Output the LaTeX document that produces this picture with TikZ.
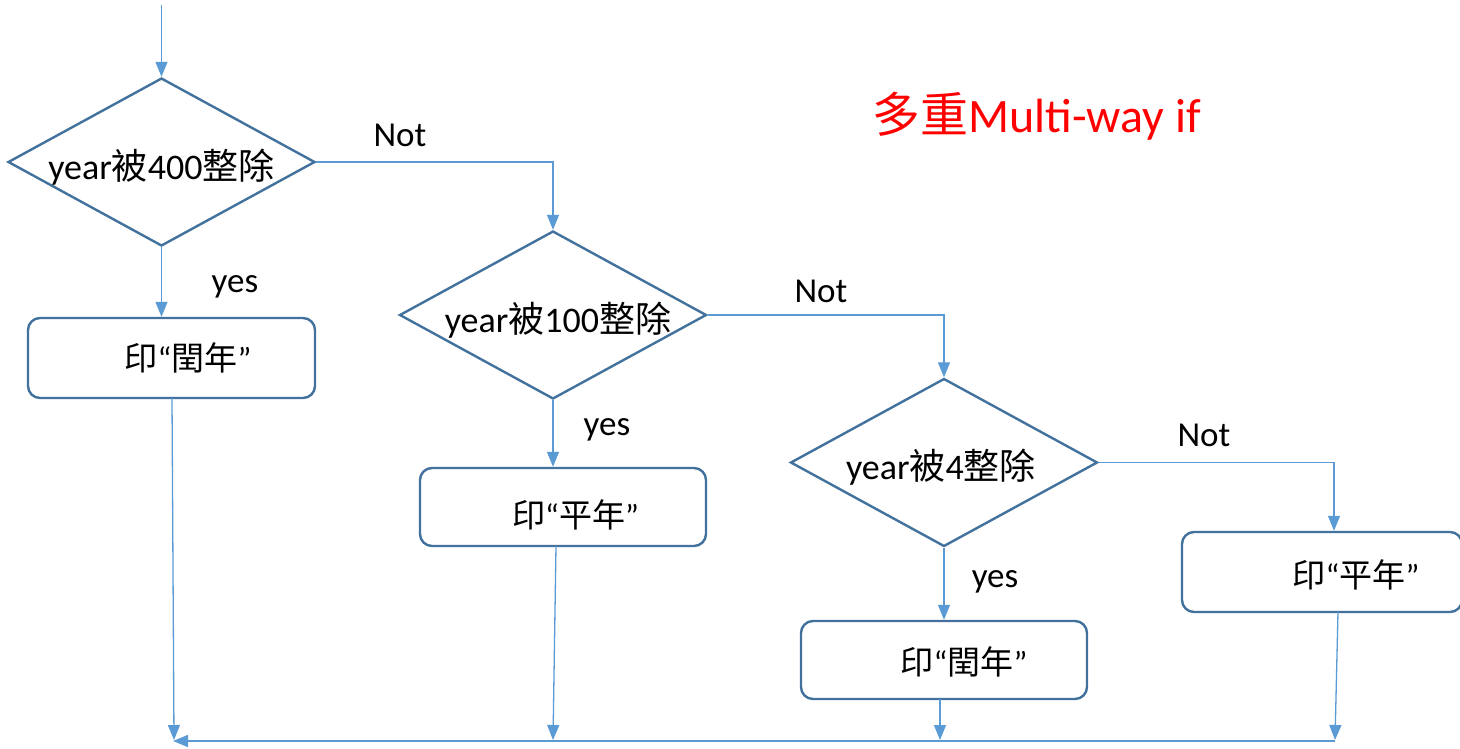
\documentclass[tikz,border=0pt]{standalone}
\usepackage{fontspec}
\setmainfont{Carlito}
\newfontfamily\cjk{Noto Sans CJK TC}
\usetikzlibrary{shapes.geometric,arrows.meta}
\definecolor{shapeblue}{HTML}{41719C}
\definecolor{linkblue}{HTML}{5B9BD5}
\begin{document}
\begin{tikzpicture}[x=1pt,y=-1pt,
  dec/.style={diamond, draw=shapeblue, line width=2.4pt, shape aspect=1.83, inner sep=0pt,
    text height=36pt, text depth=2pt,
    minimum width=307pt, minimum height=168pt, font=\fontsize{36}{40}\selectfont},
  outbox/.style={rectangle, rounded corners=12pt, draw=shapeblue, line width=2.4pt, inner sep=0pt,
    text height=28pt, text depth=4pt, font=\fontsize{33}{38}\selectfont},
  lbl/.style={inner sep=0pt, font=\fontsize{35}{40}\selectfont},
  link/.style={draw=linkblue, line width=1.3pt, -{Triangle[length=15pt,width=12pt]}}]
\useasboundingbox (0,0) rectangle (1460,748);
% decisions
\node[dec] (d1) at (161.5,162) {year{\cjk 被}400{\cjk 整除}};
\node[dec] (d2) at (553,315) {\hspace*{10pt}year{\cjk 被}100{\cjk 整除}};
\node[dec] (d3) at (944,462.5) {\hspace*{-6pt}year{\cjk 被}4{\cjk 整除}};
% outputs
\node[outbox, minimum width=287pt, minimum height=80pt] (b1) at (171.5,358) {\hspace*{33pt}{\cjk 印}“{\cjk 閏年}”};
\node[outbox, minimum width=286pt, minimum height=78pt] (b2) at (563,507) {\raisebox{-8pt}{\hspace*{25pt}{\cjk 印}“{\cjk 平年}”}};
\node[outbox, minimum width=286pt, minimum height=78pt] (b3) at (944,660) {\raisebox{-2pt}{\hspace*{40pt}{\cjk 印}“{\cjk 閏年}”}};
\node[outbox, minimum width=280pt, minimum height=80pt] (b4) at (1322,572) {\raisebox{-3pt}{\hspace*{68pt}{\cjk 印}“{\cjk 平年}”}};
% labels
\node[lbl] (n1) at (400,135) {Not};
\node[lbl] (y1) at (235,287) {yes};
\node[lbl] (n2) at (821,291) {Not};
\node[lbl] (y2) at (607,430) {yes};
\node[lbl] (n3) at (1204,435) {Not};
\node[lbl] (y3) at (995,582) {yes};
\node[anchor=west, inner sep=0pt, text=red, font=\fontsize{48}{54}\selectfont] (title) at (872,116) {{\cjk 多重}Multi-way if};
% coordinates
\coordinate (start) at (161.5,5);
\coordinate (e1) at (174,740);
\coordinate (e2) at (553,740);
\coordinate (e3) at (940,740);
\coordinate (e4) at (1335,740);
\coordinate (m4) at (1335,741);
\coordinate (m1) at (173,741);
\coordinate (s1) at (172,398);
\coordinate (s2) at (556,546);
\coordinate (s3) at (940,699);
\coordinate (s4) at (1338,612);
% connectors
\draw[link] (start) -- (d1.north);
\draw[link] (d1.south) -- (b1.north -| d1.south);
\draw[link] (d1.east) -| (d2.north);
\draw[link] (d2.south) -- (b2.north -| d2.south);
\draw[link] (d2.east) -| (d3.north);
\draw[link] (d3.south) -- (b3.north -| d3.south);
\draw[link] (d3.east) -| (b4.north -| 1334,0);
\draw[link] (s1) -- (e1);
\draw[link] (s2) -- (e2);
\draw[link] (s3) -- (e3);
\draw[link] (s4) -- (e4);
\draw[link] (m4) -- (m1);
\end{tikzpicture}
\end{document}
